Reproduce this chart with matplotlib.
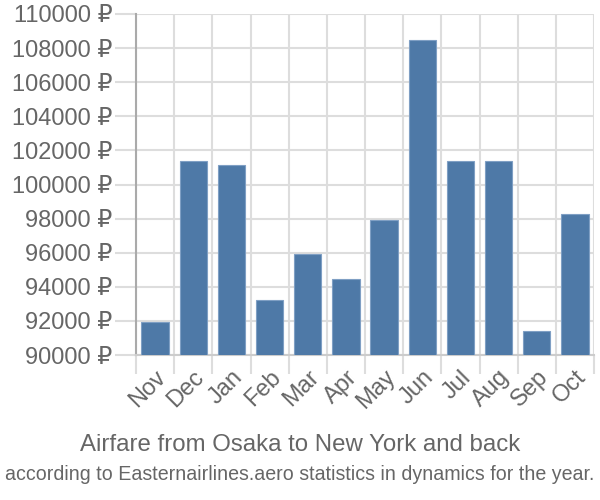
import matplotlib
matplotlib.use("Agg")
import matplotlib.pyplot as plt
import numpy as np

months = ["Nov", "Dec", "Jan", "Feb", "Mar", "Apr", "May", "Jun", "Jul", "Aug", "Sep", "Oct"]
prices = [91950, 101400, 101130, 93230, 95900, 94440, 97920, 108480, 101400, 101400, 91390, 98270]
yticks = list(range(90000, 110001, 2000))

plt.rcParams['font.family'] = ['Liberation Sans', 'DejaVu Sans']
txt = '#666666'
grid = '#dddddd'

fig = plt.figure(figsize=(6, 5), dpi=100)
ax = fig.add_axes([136/600, 1-355/500, (594-136)/600, (355-14)/500])

x = np.arange(len(months))
ax.bar(x, prices, width=0.72, color='#4e79a7', edgecolor='#7f9fc4', linewidth=0.8, zorder=3)
ax.set_xlim(-0.5, len(months)-0.5)
ax.set_ylim(90000, 110000)
ax.set_yticks(yticks)
ax.set_yticklabels([f"{v} ₽" for v in yticks], color=txt, fontsize=17)
ax.set_xticks(x)
ax.set_xticklabels(months, rotation=45, ha='right', rotation_mode='anchor', color=txt, fontsize=17)
ax.tick_params(axis='x', length=0, pad=8)
ax.set_xticks(np.arange(-0.5, len(months)), minor=True)
ax.tick_params(axis='x', which='minor', length=14, color=grid, width=1.5)
ax.tick_params(axis='y', length=15, color=grid, width=1.5, pad=2)
ax.grid(True, which='minor', axis='x', color=grid, linewidth=1.5, zorder=0)
ax.grid(True, which='major', axis='y', color=grid, linewidth=1.5, zorder=0)
for s in ['top', 'right']:
    ax.spines[s].set_visible(False)
ax.spines['left'].set_color('#aaaaaa')
ax.spines['left'].set_linewidth(1.5)
ax.spines['bottom'].set_color('#cccccc')
ax.spines['bottom'].set_linewidth(1.5)

fig.text(0.5, 1-445/500, "Airfare from Osaka to New York and back", ha='center', va='center', color=txt, fontsize=17.3)
fig.text(0.5, 1-475/500, "according to Easternairlines.aero statistics in dynamics for the year.", ha='center', va='center', color=txt, fontsize=14.1)

fig.savefig("out.png", dpi=100)
